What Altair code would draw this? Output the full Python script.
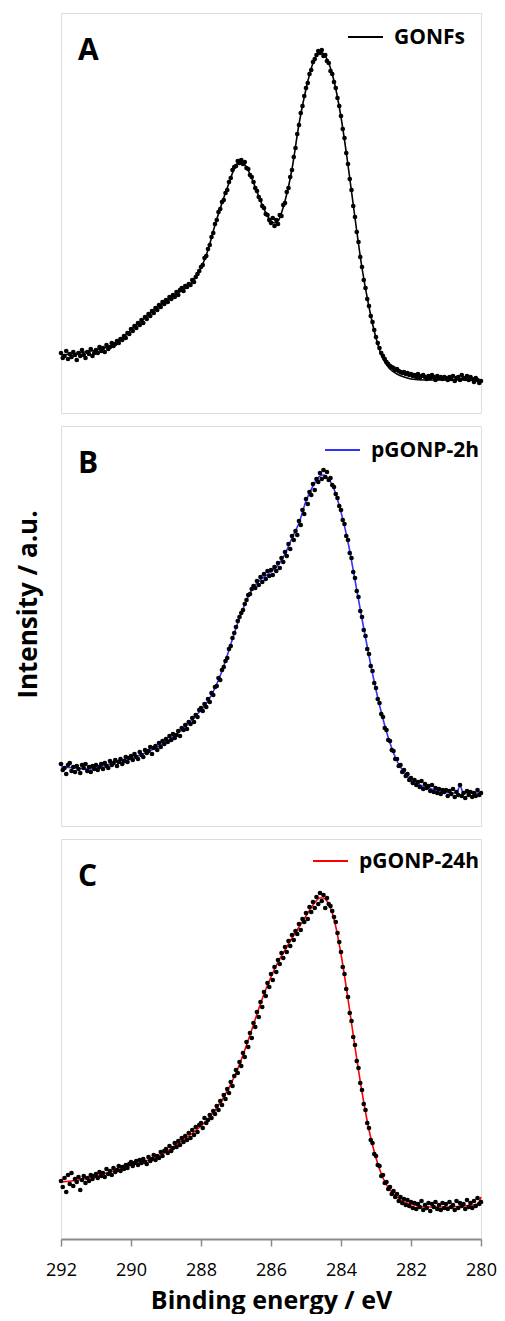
import altair as alt
import pandas as pd

# Binding energy grid of the measured points (eV)
energy = [
    292.00, 291.95, 291.90, 291.85, 291.80, 291.75, 291.70, 291.65, 291.60, 291.55,
    291.50, 291.45, 291.40, 291.35, 291.30, 291.25, 291.20, 291.15, 291.10, 291.05,
    291.00, 290.95, 290.90, 290.85, 290.80, 290.75, 290.70, 290.65, 290.60, 290.55,
    290.50, 290.45, 290.40, 290.35, 290.30, 290.25, 290.20, 290.15, 290.10, 290.05,
    290.00, 289.95, 289.90, 289.85, 289.80, 289.75, 289.70, 289.65, 289.60, 289.55,
    289.50, 289.45, 289.40, 289.35, 289.30, 289.25, 289.20, 289.15, 289.10, 289.05,
    289.00, 288.95, 288.90, 288.85, 288.80, 288.75, 288.70, 288.65, 288.60, 288.55,
    288.50, 288.45, 288.40, 288.35, 288.30, 288.25, 288.20, 288.15, 288.10, 288.05,
    288.00, 287.95, 287.90, 287.85, 287.80, 287.75, 287.70, 287.65, 287.60, 287.55,
    287.50, 287.45, 287.40, 287.35, 287.30, 287.25, 287.20, 287.15, 287.10, 287.05,
    287.00, 286.95, 286.90, 286.85, 286.80, 286.75, 286.70, 286.65, 286.60, 286.55,
    286.50, 286.45, 286.40, 286.35, 286.30, 286.25, 286.20, 286.15, 286.10, 286.05,
    286.00, 285.95, 285.90, 285.85, 285.80, 285.75, 285.70, 285.65, 285.60, 285.55,
    285.50, 285.45, 285.40, 285.35, 285.30, 285.25, 285.20, 285.15, 285.10, 285.05,
    285.00, 284.95, 284.90, 284.85, 284.80, 284.75, 284.70, 284.65, 284.60, 284.55,
    284.50, 284.45, 284.40, 284.35, 284.30, 284.25, 284.20, 284.15, 284.10, 284.05,
    284.00, 283.95, 283.90, 283.85, 283.80, 283.75, 283.70, 283.65, 283.60, 283.55,
    283.50, 283.45, 283.40, 283.35, 283.30, 283.25, 283.20, 283.15, 283.10, 283.05,
    283.00, 282.95, 282.90, 282.85, 282.80, 282.75, 282.70, 282.65, 282.60, 282.55,
    282.50, 282.45, 282.40, 282.35, 282.30, 282.25, 282.20, 282.15, 282.10, 282.05,
    282.00, 281.95, 281.90, 281.85, 281.80, 281.75, 281.70, 281.65, 281.60, 281.55,
    281.50, 281.45, 281.40, 281.35, 281.30, 281.25, 281.20, 281.15, 281.10, 281.05,
    281.00, 280.95, 280.90, 280.85, 280.80, 280.75, 280.70, 280.65, 280.60, 280.55,
    280.50, 280.45, 280.40, 280.35, 280.30, 280.25, 280.20, 280.15, 280.10, 280.05,
    280.00,
]

# Panel A (GONFs) measured intensities (a.u.)
gonfs_points = [
    60, 55, 57, 62, 54, 59, 56, 61, 58, 53, 60, 57, 63, 58, 55, 61, 59, 64, 57, 60,
    63, 60, 66, 62, 65, 61, 68, 64, 66, 70, 67, 69, 72, 70, 74, 73, 77, 75, 80, 79,
    84, 82, 87, 85, 90, 88, 93, 90, 96, 94, 99, 97, 102, 100, 105, 103, 108, 106, 111, 109,
    113, 111, 116, 114, 118, 116, 121, 118, 123, 125, 122, 127, 126, 129, 128, 133, 131, 136, 139, 142,
    146, 148, 155, 157, 164, 168, 176, 180, 189, 193, 201, 204, 211, 213, 220, 223, 231, 235, 243, 246,
    247, 252, 250, 253, 249, 251, 245, 244, 238, 236, 231, 225, 222, 216, 213, 207, 205, 199, 198, 193,
    190, 195, 187, 193, 189, 198, 197, 208, 210, 221, 225, 236, 243, 256, 265, 279, 288, 300, 307, 317,
    325, 330, 339, 343, 351, 354, 358, 362, 360, 363, 357, 358, 352, 350, 342, 339, 331, 325, 315, 307,
    297, 284, 275, 260, 249, 234, 223, 207, 196, 181, 171, 156, 146, 133, 125, 114, 107, 97, 91, 83,
    76, 70, 65, 60, 57, 54, 51, 49, 47, 46, 45, 43, 44, 42, 41, 40, 41, 39, 40, 38,
    39, 37, 38, 36, 39, 35, 37, 38, 36, 34, 37, 35, 38, 36, 33, 37, 35, 36, 34, 36,
    35, 33, 36, 34, 37, 32, 35, 36, 33, 38, 35, 34, 37, 33, 36, 34, 31, 35, 33, 30,
    32,
]

# Panel B (pGONP-2h) measured intensities (a.u.)
p2h_points = [
    62, 56, 58, 52, 61, 63, 55, 59, 54, 60, 57, 53, 61, 58, 62, 55, 59, 54, 60, 57,
    61, 56, 59, 62, 57, 63, 60, 58, 65, 61, 63, 66, 60, 64, 67, 62, 65, 69, 64, 68,
    70, 66, 72, 69, 67, 74, 71, 69, 76, 73, 75, 79, 72, 78, 80, 76, 83, 79, 85, 82,
    87, 84, 90, 86, 92, 88, 91, 95, 90, 98, 96, 101, 97, 104, 102, 108, 104, 111, 109, 116,
    118, 115, 122, 119, 127, 124, 133, 131, 139, 140, 148, 146, 156, 159, 165, 168, 177, 180, 188, 193,
    199, 205, 209, 213, 216, 222, 226, 231, 232, 237, 240, 238, 245, 241, 249, 244, 252, 247, 255, 250,
    256, 251, 259, 255, 263, 258, 268, 264, 274, 270, 282, 277, 290, 286, 295, 291, 305, 301, 316, 312,
    327, 322, 334, 331, 342, 336, 347, 344, 353, 347, 356, 349, 354, 346, 348, 341, 339, 332, 328, 320,
    316, 306, 302, 290, 286, 273, 268, 254, 248, 235, 229, 215, 209, 196, 190, 177, 172, 160, 155, 143,
    138, 127, 123, 112, 109, 98, 96, 86, 85, 76, 75, 67, 67, 60, 61, 54, 56, 50, 52, 46,
    48, 43, 46, 41, 44, 39, 45, 37, 42, 38, 40, 35, 41, 34, 38, 33, 37, 32, 36, 34,
    36, 30, 35, 32, 37, 29, 34, 31, 41, 30, 33, 28, 35, 31, 34, 29, 33, 30, 36, 31,
    33,
]

# Panel C (pGONP-24h) measured intensities (a.u.)
p24h_points = [
    58, 52, 61, 47, 64, 55, 66, 53, 60, 57, 62, 49, 59, 63, 56, 61, 58, 64, 60, 63,
    65, 61, 67, 63, 66, 62, 70, 65, 68, 64, 71, 67, 69, 73, 68, 72, 70, 74, 71, 75,
    77, 73, 76, 78, 74, 79, 76, 80, 77, 75, 82, 78, 80, 84, 79, 83, 81, 87, 83, 88,
    90, 86, 93, 88, 91, 96, 92, 98, 94, 101, 97, 103, 99, 106, 101, 109, 104, 112, 107, 114,
    116, 111, 121, 116, 119, 124, 121, 128, 125, 133, 129, 138, 134, 144, 140, 150, 146, 157, 153, 163,
    169, 166, 177, 173, 186, 182, 197, 192, 206, 201, 216, 212, 227, 222, 237, 232, 247, 243, 256, 252,
    265, 259, 272, 267, 279, 275, 286, 281, 292, 287, 298, 293, 304, 299, 308, 305, 315, 309, 320, 317,
    326, 320, 332, 327, 337, 331, 342, 335, 346, 338, 344, 331, 341, 335, 333, 328, 322, 317, 306, 297,
    287, 272, 265, 250, 242, 226, 218, 202, 194, 178, 171, 156, 149, 135, 129, 116, 111, 99, 96, 85,
    83, 74, 73, 63, 64, 56, 57, 50, 52, 45, 48, 42, 45, 38, 42, 36, 40, 34, 39, 33,
    37, 31, 36, 30, 35, 32, 38, 29, 34, 31, 36, 28, 35, 32, 37, 30, 34, 29, 36, 31,
    35, 30, 37, 32, 34, 29, 38, 31, 36, 33, 35, 30, 39, 32, 36, 31, 38, 33, 41, 35,
    37,
]

# Fitted envelopes (knots of the fit curves)
gonfs_fit_e = [292.0, 291.5, 291.0, 290.6, 290.4, 290.2, 290.0, 289.6, 289.2, 288.8,
               288.4, 288.2, 288.0, 287.8, 287.6, 287.4, 287.2, 287.0, 286.9, 286.8,
               286.6, 286.4, 286.2, 286.0, 285.9, 285.8, 285.6, 285.4, 285.2, 285.0,
               284.8, 284.6, 284.4, 284.2, 284.0, 283.8, 283.6, 283.4, 283.2, 283.0,
               282.8, 282.6, 282.4, 282.2, 282.0, 281.6, 281.0, 280.5, 280.0]
gonfs_fit_i = [58, 60, 63, 67, 70, 76, 83, 95, 107, 117,
               126, 133, 145, 163, 188, 210, 230, 248, 251, 250,
               239, 221, 204, 192, 190, 192, 212, 244, 289, 324,
               350, 361, 354, 332, 296, 248, 195, 145, 106, 75,
               54, 44, 39, 36, 34, 33, 33, 33, 33]

p2h_fit_e = [292.0, 291.6, 291.2, 290.8, 290.4, 290.0, 289.6, 289.2, 288.8, 288.4,
             288.0, 287.8, 287.6, 287.4, 287.2, 287.0, 286.8, 286.6, 286.4, 286.2,
             286.0, 285.8, 285.6, 285.4, 285.2, 285.0, 284.8, 284.6, 284.5, 284.4,
             284.2, 284.0, 283.8, 283.6, 283.4, 283.2, 283.0, 282.8, 282.6, 282.4,
             282.2, 282.0, 281.8, 281.5, 281.2, 280.8, 280.7, 280.6, 280.5, 280.0]
p2h_fit_i = [59, 58, 57, 60, 64, 68, 73, 80, 89, 101,
             116, 125, 138, 155, 176, 198, 217, 233, 243, 249,
             254, 261, 272, 288, 303, 325, 340, 350, 351, 349,
             337, 314, 284, 246, 207, 170, 136, 107, 83, 65,
             54, 46, 42, 38, 35, 33, 33, 40, 33, 33]

p24h_fit_e = [292.0, 291.5, 291.0, 290.5, 290.0, 289.5, 289.0, 288.6, 288.2, 287.8,
              287.4, 287.0, 286.8, 286.6, 286.4, 286.2, 286.0, 285.8, 285.6, 285.4,
              285.2, 285.0, 284.8, 284.6, 284.5, 284.4, 284.2, 284.0, 283.8, 283.6,
              283.4, 283.2, 283.0, 282.8, 282.6, 282.4, 282.2, 282.0, 281.6, 281.0,
              280.5, 280.1, 280.0]
p24h_fit_i = [57, 59, 63, 68, 74, 79, 87, 97, 107, 120,
              139, 166, 184, 204, 225, 245, 262, 277, 289, 301,
              312, 323, 334, 341, 341, 338, 320, 285, 240, 192,
              147, 109, 81, 61, 49, 42, 37, 35, 32, 32,
              33, 35, 42]

series_names = ["GONFs", "pGONP-2h", "pGONP-24h"]
series_colors = ["#000000", "#3333ff", "#ff0000"]
panel_labels = ["A", "B", "C"]
x_ticks = [292, 290, 288, 286, 284, 282, 280]

FONT = "Open Sans"
GRAY = "#8a8a8a"
W, H = 420, 400


def panel(points, fit_e, fit_i, name, color, label, leg_x, leg_y, x_axis, y_axis):
    pts = pd.DataFrame({"energy": energy, "intensity": points})
    fit = pd.DataFrame({"energy": fit_e, "intensity": fit_i, "series": name})
    xs = alt.Scale(domain=[280, 292], reverse=True, nice=False, zero=False)
    ys = alt.Scale(domain=[0, 400], nice=False, zero=False)
    x = alt.X("energy:Q", scale=xs, axis=x_axis)
    y = alt.Y("intensity:Q", scale=ys, axis=y_axis)
    line = alt.Chart(fit).mark_line(strokeWidth=1.6, interpolate="monotone", color=color).encode(
        x=x, y=y
    )
    dots = alt.Chart(pts).mark_circle(size=22, color="black", opacity=1).encode(x=x, y=y)
    one = pd.DataFrame({"t": [label], "name": [name]})
    tag = alt.Chart(one).mark_text(
        font=FONT, fontSize=30, fontWeight="bold", color="black",
        align="left", baseline="alphabetic",
    ).encode(text="t:N", x=alt.value(17), y=alt.value(47))
    key_line = alt.Chart(one).mark_rule(color=color, strokeWidth=2).encode(
        x=alt.value(leg_x), x2=alt.value(leg_x + 35), y=alt.value(leg_y)
    )
    key_text = alt.Chart(one).mark_text(
        font=FONT, fontSize=21, fontWeight="bold", color="black",
        align="left", baseline="middle",
    ).encode(text="name:N", x=alt.value(leg_x + 46), y=alt.value(leg_y + 1))
    return alt.layer(line, dots, tag, key_line, key_text).properties(width=W, height=H)


no_axis = None
y_axis_b = alt.Axis(
    title="Intensity / a.u.", labels=False, ticks=False, domain=False, grid=False,
    titleFont=FONT, titleFontSize=26, titleFontWeight="bold", titleColor="black",
    titlePadding=20, titleY=178,
)
x_axis_c = alt.Axis(
    values=x_ticks, format="d", grid=False,
    labelFont=FONT, labelFontSize=18, labelColor="black", labelPadding=15,
    labelFlush=False, labelOverlap=False,
    tickColor=GRAY, tickSize=7, tickWidth=1.5,
    domainColor=GRAY, domainWidth=2,
    title="Binding energy / eV", titleFont=FONT, titleFontSize=25,
    titleFontWeight="bold", titleColor="black", titlePadding=9,
)

pa = panel(gonfs_points, gonfs_fit_e, gonfs_fit_i, series_names[0], series_colors[0],
           panel_labels[0], 287, 24, no_axis, no_axis)
pb = panel(p2h_points, p2h_fit_e, p2h_fit_i, series_names[1], series_colors[1],
           panel_labels[1], 264, 24, no_axis, y_axis_b)
pc = panel(p24h_points, p24h_fit_e, p24h_fit_i, series_names[2], series_colors[2],
           panel_labels[2], 252, 22, x_axis_c, no_axis)

chart = (
    alt.vconcat(pa, pb, pc, spacing=13, bounds="flush")
    .properties(padding={"left": 6, "top": 4, "right": 0, "bottom": 0})
    .configure_view(stroke=GRAY, strokeWidth=2)
    .configure(background="white")
)

chart.save("out.html", embed_options={"renderer": "svg", "actions": False})
